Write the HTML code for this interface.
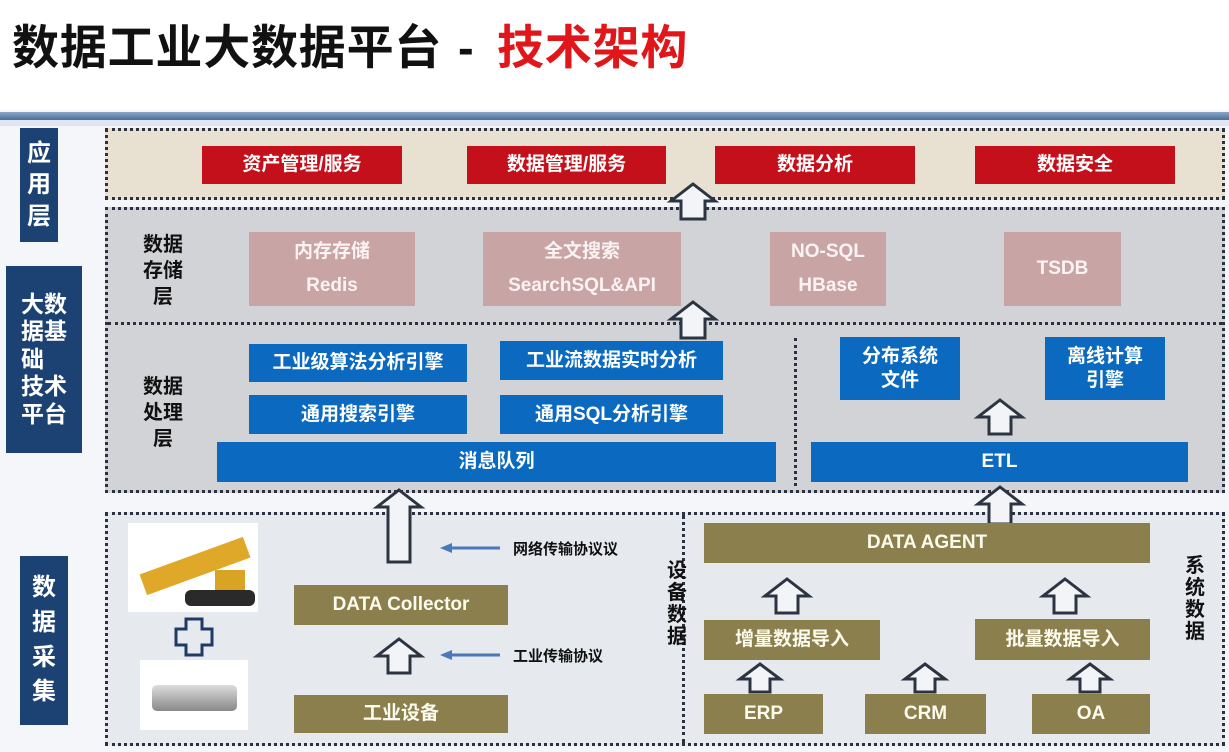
<!DOCTYPE html>
<html><head><meta charset="utf-8"><style>
*{margin:0;padding:0;box-sizing:border-box}
body{width:1229px;height:752px;position:relative;overflow:hidden;background:#f4f6f9;font-family:"Liberation Sans","Noto Sans CJK SC",sans-serif;font-weight:bold}
.a{position:absolute}
.c{position:absolute;display:flex;align-items:center;justify-content:center;text-align:center;color:#fff;line-height:1.25}
.red{background:#c3101a;font-size:19px}
.pk{background:#c9a4a5;font-size:19px;color:#fbf3f3;flex-direction:column}
.bl{background:#0b6ac0;font-size:19px;flex-direction:column}
.ol{background:#8b7f4e;font-size:19px;color:#fdfbee}
.nav{background:#1c4273;color:#fff;font-size:24px;display:flex;flex-direction:column;align-items:center;justify-content:center;line-height:1.3}
.dash{position:absolute;border:3px dotted #2b3140}
.vt{position:absolute;font-size:20px;color:#111;line-height:1.1;width:22px;text-align:center}
</style></head><body>
<div class="a" style="left:0;top:0;width:1229px;height:110px;background:#fff"></div>
<div class="a" style="left:12px;top:18px;font-size:47px;line-height:60px;color:#111;white-space:nowrap;letter-spacing:0.8px">数据工业大数据平台</div>
<div class="a" style="left:458px;top:18px;font-size:47px;line-height:60px;color:#111">-</div>
<div class="a" style="left:497px;top:18px;font-size:47px;line-height:60px;color:#e0161b;white-space:nowrap;letter-spacing:0.8px">技术架构</div>
<div class="a" style="left:0;top:112px;width:1229px;height:8px;background:linear-gradient(#8aa6c6,#4a6f9b)"></div>
<div class="a" style="left:0;top:120px;width:1229px;height:6px;background:#dfe6ef"></div>

<div class="a nav" style="left:20px;top:128px;width:38px;height:114px">应<br>用<br>层</div>
<div class="a nav" style="left:6px;top:266px;width:76px;height:187px;font-size:23px;line-height:1.2">大数<br>据基<br>础<br>技术<br>平台</div>
<div class="a nav" style="left:20px;top:556px;width:48px;height:169px;font-size:24px;line-height:1.45">数<br>据<br>采<br>集</div>

<div class="dash" style="left:105px;top:128px;width:1120px;height:72px;background:#e8e1d2"></div>
<div class="c red" style="left:202px;top:146px;width:200px;height:38px">资产管理/服务</div>
<div class="c red" style="left:467px;top:146px;width:199px;height:38px">数据管理/服务</div>
<div class="c red" style="left:715px;top:146px;width:200px;height:38px">数据分析</div>
<div class="c red" style="left:975px;top:146px;width:200px;height:38px">数据安全</div>

<div class="dash" style="left:105px;top:207px;width:1120px;height:286px;background:#d2d3d7"></div>
<div class="a" style="left:108px;top:322px;width:1114px;border-top:3px dotted #2b3140"></div>
<div class="a" style="left:794px;top:338px;height:148px;border-left:3px dotted #2b3140"></div>
<div class="a" style="left:140px;top:232px;font-size:20px;line-height:26px;color:#111;text-align:center;width:46px">数据<br>存储<br>层</div>
<div class="a" style="left:140px;top:374px;font-size:20px;line-height:26px;color:#111;text-align:center;width:46px">数据<br>处理<br>层</div>
<div class="c pk" style="left:249px;top:232px;width:166px;height:74px">内存存储<span style="margin-top:10px">Redis</span></div>
<div class="c pk" style="left:483px;top:232px;width:198px;height:74px">全文搜索<span style="margin-top:10px">SearchSQL&amp;API</span></div>
<div class="c pk" style="left:770px;top:232px;width:116px;height:74px">NO-SQL<span style="margin-top:10px">HBase</span></div>
<div class="c pk" style="left:1004px;top:232px;width:117px;height:74px">TSDB</div>

<div class="c bl" style="left:249px;top:344px;width:218px;height:38px">工业级算法分析引擎</div>
<div class="c bl" style="left:500px;top:341px;width:223px;height:39px">工业流数据实时分析</div>
<div class="c bl" style="left:249px;top:395px;width:218px;height:39px">通用搜索引擎</div>
<div class="c bl" style="left:500px;top:395px;width:223px;height:39px">通用SQL分析引擎</div>
<div class="c bl" style="left:217px;top:442px;width:559px;height:40px">消息队列</div>
<div class="c bl" style="left:840px;top:337px;width:120px;height:63px">分布系统<br>文件</div>
<div class="c bl" style="left:1045px;top:337px;width:120px;height:63px">离线计算<br>引擎</div>
<div class="c bl" style="left:811px;top:442px;width:377px;height:40px">ETL</div>

<div class="dash" style="left:105px;top:512px;width:1120px;height:234px;background:#e6e9ee"></div>
<div class="a" style="left:682px;top:515px;height:228px;border-left:3px dotted #2b3140"></div>
<div class="a" style="left:128px;top:523px;width:130px;height:89px;background:#fff"></div>
<div class="a" style="left:140px;top:555px;width:110px;height:22px;background:#e0a829;transform:rotate(-20deg)"></div>
<div class="a" style="left:185px;top:590px;width:70px;height:16px;background:#2a2a2a;border-radius:6px"></div>
<div class="a" style="left:215px;top:570px;width:30px;height:20px;background:#d9a324"></div>
<div class="a" style="left:140px;top:660px;width:108px;height:70px;background:#fff"></div>
<div class="a" style="left:152px;top:685px;width:85px;height:26px;background:linear-gradient(#ddd,#888);border-radius:5px"></div>
<svg class="a" style="left:0;top:0" width="1229" height="752">
<g fill="none" stroke="#1f3a66" stroke-width="3"><path d="M186 619h16v10h10v16h-10v10h-16v-10h-10v-16h10z"/></g>
<g fill="#f2f4f8" stroke="#2c3442" stroke-width="3" stroke-linejoin="miter">
<polygon points="693,184 715,201 705,201 705,219 681,219 681,201 671,201"/>
<polygon points="693,302 715,319 705,319 705,338 681,338 681,319 671,319"/>
<polygon points="399,490 421,507 410,507 410,562 388,562 388,507 377,507"/>
<polygon points="1000,400 1022,417 1011,417 1011,434 989,434 989,417 978,417"/>
<polygon points="1000,487 1022,504 1011,504 1011,524 989,524 989,504 978,504"/>
<polygon points="399,639 421,656 410,656 410,673 388,673 388,656 377,656"/>
<polygon points="787,579 809,596 798,596 798,613 776,613 776,596 765,596"/>
<polygon points="1065,579 1087,596 1076,596 1076,613 1054,613 1054,596 1043,596"/>
<polygon points="760,664 780,679 770,679 770,692 750,692 750,679 740,679"/>
<polygon points="925,664 945,679 935,679 935,692 915,692 915,679 905,679"/>
<polygon points="1090,664 1110,679 1100,679 1100,692 1080,692 1080,679 1070,679"/>
</g>
<g stroke="#4a78b8" stroke-width="3"><line x1="448" y1="548" x2="500" y2="548"/><line x1="448" y1="655" x2="500" y2="655"/></g>
<g fill="#4a78b8"><polygon points="440,548 452,543 452,553"/><polygon points="440,655 452,650 452,660"/></g>
</svg>
<div class="a" style="left:513px;top:538px;font-size:15px;color:#111">网络传输协议议</div>
<div class="a" style="left:513px;top:645px;font-size:15px;color:#111">工业传输协议</div>
<div class="c ol" style="left:294px;top:585px;width:214px;height:40px">DATA Collector</div>
<div class="c ol" style="left:294px;top:695px;width:214px;height:38px">工业设备</div>
<div class="c ol" style="left:704px;top:523px;width:446px;height:40px">DATA AGENT</div>
<div class="c ol" style="left:704px;top:620px;width:176px;height:40px">增量数据导入</div>
<div class="c ol" style="left:975px;top:619px;width:175px;height:41px">批量数据导入</div>
<div class="c ol" style="left:704px;top:694px;width:119px;height:40px">ERP</div>
<div class="c ol" style="left:865px;top:694px;width:121px;height:40px">CRM</div>
<div class="c ol" style="left:1032px;top:694px;width:118px;height:40px">OA</div>
<div class="vt" style="left:666px;top:560px">设<br>备<br>数<br>据</div>
<div class="vt" style="left:1184px;top:555px">系<br>统<br>数<br>据</div>
</body></html>
